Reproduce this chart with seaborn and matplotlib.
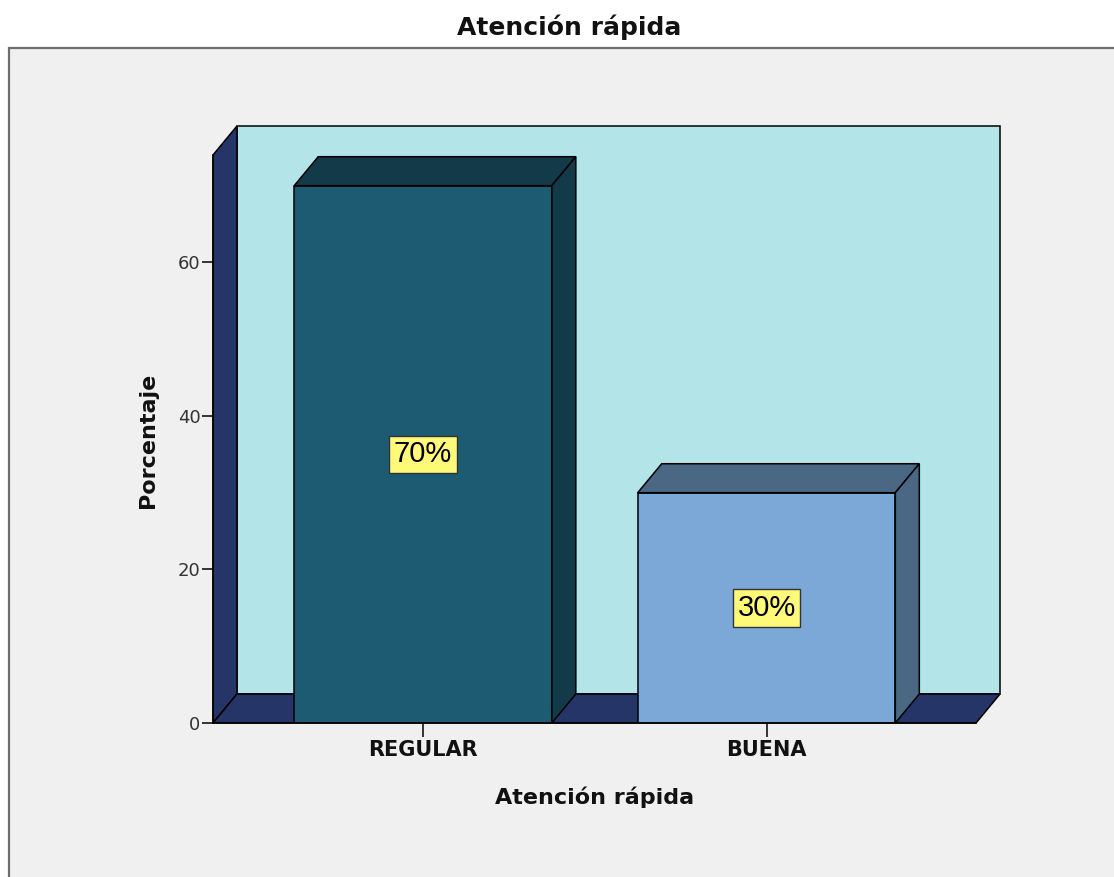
import matplotlib
matplotlib.use("Agg")
import matplotlib.pyplot as plt
from matplotlib.patches import Polygon, Rectangle
import seaborn as sns
import pandas as pd

# ---- data ----
categories = ["REGULAR", "BUENA"]
percentages = [70, 30]
label_texts = ["70%", "30%"]
yticks = [0, 20, 40, 60]
title_text = "Atención rápida"
xlabel_text = "Atención rápida"
ylabel_text = "Porcentaje"

# ---- style ----
front_colors = ["#1C5B72", "#7BA8D6"]
shade_colors = ["#133A48", "#4A6784"]
wall_color = "#B3E5E8"
side_color = "#253568"
frame_bg = "#F0F0F0"
label_bg = "#FFF97A"

sns.set_theme(style="white")
plt.rcParams["font.family"] = ["DejaVu Sans"]

W, H, DPI = 1114, 877, 100
fig = plt.figure(figsize=(W / DPI, H / DPI), dpi=DPI, facecolor="white")

# outer grey frame
fig.patches.append(Rectangle((9 / W, -0.1), 1.2, (877 - 48) / H + 0.1,
                             transform=fig.transFigure, facecolor=frame_bg,
                             edgecolor="#6E6E6E", linewidth=1.6, zorder=-5))

ax = fig.add_axes([213 / W, (H - 723) / H, (976 - 213) / W, (723 - 155) / H])
ax.set_zorder(1)
ax.patch.set_visible(False)

df = pd.DataFrame({"categoria": categories, "porcentaje": percentages})
sns.barplot(data=df, x="categoria", y="porcentaje", hue="categoria",
            palette=front_colors, saturation=1, width=0.75, edgecolor="black",
            linewidth=1.1, legend=False, ax=ax, zorder=2)

xl, xr = -0.6114, 1.6099
yb, yt = 0, 74
ax.set_xlim(xl, xr)
ax.set_ylim(yb, yt)

# depth of the 3-D effect (in pixels -> data units)
ax_w_px = (976 - 213)
ax_h_px = (723 - 155)
ddx = 24 * (xr - xl) / ax_w_px
ddy = 29 * (yt - yb) / ax_h_px

edge = dict(edgecolor="black", linewidth=1.1, clip_on=False)
# back wall
ax.add_patch(Polygon([(xl + ddx, yb + ddy), (xr + ddx, yb + ddy),
                      (xr + ddx, yt + ddy), (xl + ddx, yt + ddy)],
                     facecolor=wall_color, zorder=0.5, **edge))
# left side wall
ax.add_patch(Polygon([(xl, yb), (xl + ddx, yb + ddy), (xl + ddx, yt + ddy), (xl, yt)],
                     facecolor=side_color, zorder=0.6, **edge))
# floor
ax.add_patch(Polygon([(xl, yb), (xr, yb), (xr + ddx, yb + ddy), (xl + ddx, yb + ddy)],
                     facecolor=side_color, zorder=0.6, **edge))

bars = [p for p in ax.patches if isinstance(p, Rectangle)]
for p, shade, txt in zip(bars, shade_colors, label_texts):
    x0, w, h = p.get_x(), p.get_width(), p.get_height()
    ax.add_patch(Polygon([(x0, h), (x0 + w, h), (x0 + w + ddx, h + ddy), (x0 + ddx, h + ddy)],
                         facecolor=shade, zorder=2.1, **edge))
    ax.add_patch(Polygon([(x0 + w, 0), (x0 + w + ddx, ddy), (x0 + w + ddx, h + ddy), (x0 + w, h)],
                         facecolor=shade, zorder=2.1, **edge))
    ax.text(x0 + w / 2, h / 2, txt, ha="center", va="center", fontsize=21,
            family=["Liberation Sans", "DejaVu Sans"], color="black", zorder=5,
            bbox=dict(boxstyle="square,pad=0.16", facecolor=label_bg,
                      edgecolor="#333333", linewidth=1.0))

# axes styling
for s in ["top", "right"]:
    ax.spines[s].set_visible(False)
for s in ["left", "bottom"]:
    ax.spines[s].set_color("black")
    ax.spines[s].set_linewidth(1.1)
    ax.spines[s].set_zorder(3)

ax.set_yticks(yticks)
ax.tick_params(axis="y", direction="out", length=8, width=1.1, color="black",
               labelsize=13, labelcolor="#333333", pad=1, left=True)
ax.tick_params(axis="x", direction="out", length=10, width=1.1, color="black",
               labelsize=15, labelcolor="#111111", pad=2, bottom=True)
for lbl in ax.get_xticklabels():
    lbl.set_fontweight("bold")

ax.set_xlabel(xlabel_text, fontsize=16, fontweight="bold", color="#111111")
ax.xaxis.label.set_va("center")
ax.xaxis.set_label_coords(0.5, (723 - 797) / ax_h_px)
ax.set_ylabel(ylabel_text, fontsize=16, fontweight="bold", color="#111111")
ax.yaxis.label.set_va("center")
ax.yaxis.set_label_coords((148 - 213) / ax_w_px, (723 - 440) / ax_h_px)

fig.text(569 / W, 1 - 27 / H, title_text, ha="center", va="center",
         fontsize=18, fontweight="bold", color="#111111")

fig.savefig("out.png", dpi=DPI, facecolor="white")
